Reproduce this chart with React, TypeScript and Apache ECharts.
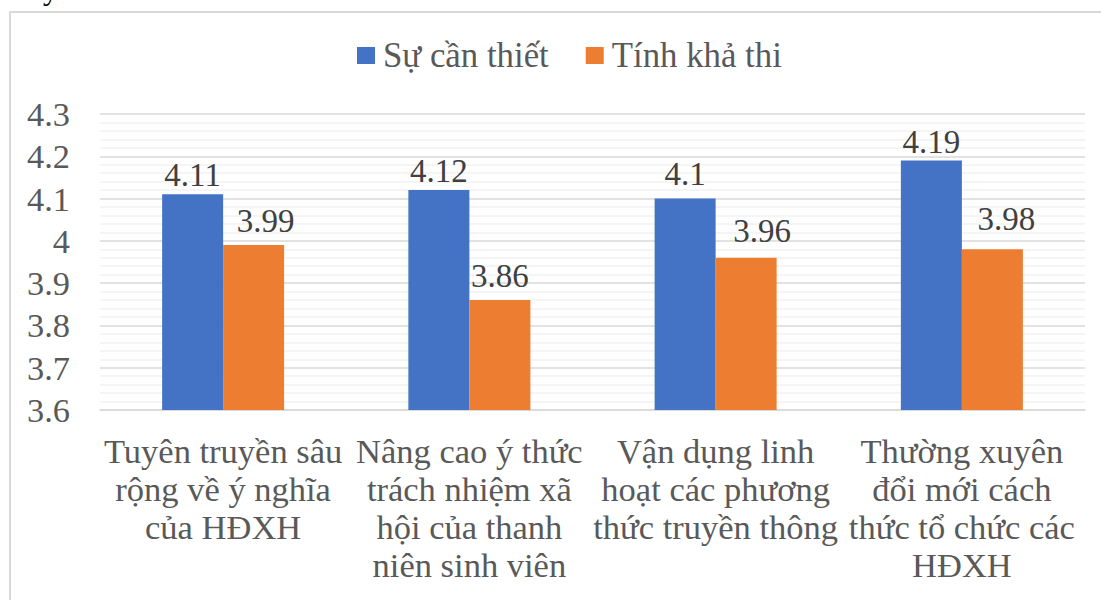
import React, { useEffect, useRef } from "react";
import * as echarts from "echarts";

const categories = [
  "Tuyên truyền sâu\nrộng về ý nghĩa\ncủa HĐXH",
  "Nâng cao ý thức\ntrách nhiệm xã\nhội của thanh\nniên sinh viên",
  "Vận dụng linh\nhoạt các phương\nthức truyền thông",
  "Thường xuyên\nđổi mới cách\nthức tổ chức các\nHĐXH",
];
const seriesNames = ["Sự cần thiết", "Tính khả thi"];
const canThiet = [4.11, 4.12, 4.1, 4.19];
const khaThi = [3.99, 3.86, 3.96, 3.98];
const yMin = 3.6;
const yMax = 4.3;
const yInterval = 0.1;

// label nudges (px) as placed in the original chart
const canThietLabelOffsets = [[0, 0], [0, 0], [0, -5], [0, 1]];
const khaThiLabelOffsets = [[12, -5], [0, -4.5], [16, -7.5], [14, -11]];

const FONT = "Liberation Serif";

export default function App() {
  const ref = useRef<HTMLDivElement>(null);
  useEffect(() => {
    if (!ref.current) return;
    const chart = echarts.init(ref.current, undefined, { renderer: "svg" });
    const labelStyle = {
      show: true,
      position: "top" as const,
      distance: 3,
      color: "#404040",
      fontFamily: FONT,
      fontSize: 33,
    };
    const withOffsets = (vals: number[], offs: number[][]) =>
      vals.map((v, i) => ({ value: v, label: { offset: offs[i] } }));
    chart.setOption({
      animation: false,
      backgroundColor: "#ffffff",
      textStyle: { fontFamily: FONT },
      graphic: [
        {
          type: "rect",
          shape: { x: 10, y: 12, width: 1200, height: 700 },
          style: { fill: "none", stroke: "#d9d9d9", lineWidth: 2 },
          silent: true,
        },
        {
          type: "text",
          x: 43,
          y: -26,
          style: { text: "y", fontFamily: FONT, fontSize: 30, fill: "#000000" },
          silent: true,
        },
      ],
      legend: {
        data: seriesNames,
        left: 357,
        top: 38,
        padding: 0,
        itemWidth: 18,
        itemHeight: 17,
        itemGap: 37,
        icon: "rect",
        textStyle: {
          color: "#595959",
          fontFamily: FONT,
          fontSize: 34.8,
          padding: [0, 0, 0, 3],
        },
      },
      grid: { left: 100, right: 16, top: 114, bottom: 190 },
      xAxis: {
        type: "category",
        data: categories,
        axisLine: { show: true, lineStyle: { color: "#d9d9d9", width: 1.5 } },
        axisTick: { show: false },
        axisLabel: {
          color: "#595959",
          fontFamily: FONT,
          fontSize: 34.5,
          lineHeight: 38,
          margin: 22,
          interval: 0,
          align: "center",
        },
      },
      yAxis: {
        type: "value",
        min: yMin,
        max: yMax,
        interval: yInterval,
        axisLine: { show: false },
        axisTick: { show: false },
        axisLabel: {
          color: "#595959",
          fontFamily: FONT,
          fontSize: 34.4,
          margin: 30,
          formatter: (v: number) => String(Math.round(v * 10) / 10),
        },
        splitLine: { show: true, lineStyle: { color: "#d9d9d9", width: 1.5 } },
        minorTick: { show: false, splitNumber: 5 },
        minorSplitLine: { show: true, lineStyle: { color: "#f2f2f2", width: 1.5 } },
      },
      series: [
        {
          name: seriesNames[0],
          type: "bar",
          data: withOffsets(canThiet, canThietLabelOffsets),
          barWidth: 61,
          barGap: "0%",
          itemStyle: { color: "#4472c4" },
          label: labelStyle,
        },
        {
          name: seriesNames[1],
          type: "bar",
          data: withOffsets(khaThi, khaThiLabelOffsets),
          barWidth: 61,
          barGap: "0%",
          itemStyle: { color: "#ed7d31" },
          label: labelStyle,
        },
      ],
    });
    return () => chart.dispose();
  }, []);
  return (
    <div
      ref={ref}
      style={{ position: "fixed", left: 0, top: 0, width: 1101, height: 600 }}
    />
  );
}
